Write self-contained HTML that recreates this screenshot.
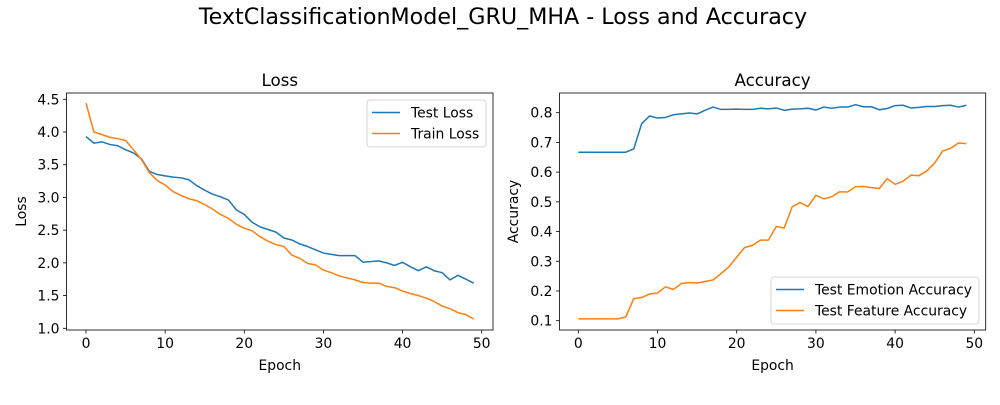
<!DOCTYPE html>
<html><head><meta charset="utf-8"><style>
body{margin:0;background:#fff;font-family:"Liberation Sans","DejaVu Sans",sans-serif}
svg text{font-family:"DejaVu Sans","Liberation Sans",sans-serif}
</style></head><body>
<svg id="c" width="1000" height="400" xmlns="http://www.w3.org/2000/svg">
<text x="503" y="24" font-size="22.2" text-anchor="middle">TextClassificationModel_GRU_MHA - Loss and Accuracy</text>
</svg>
<script>
const epochs = Array.from({length:50},(_,i)=>i);
const testLoss=[3.93,3.83,3.85,3.81,3.79,3.73,3.68,3.59,3.40,3.35,3.33,3.31,3.30,3.27,3.18,3.11,3.05,3.01,2.96,2.81,2.74,2.62,2.55,2.51,2.47,2.38,2.35,2.29,2.25,2.20,2.15,2.13,2.11,2.11,2.11,2.01,2.02,2.03,2.00,1.96,2.01,1.94,1.88,1.94,1.88,1.85,1.74,1.81,1.75,1.69];
const trainLoss=[4.44,4.0,3.96,3.92,3.90,3.87,3.73,3.58,3.38,3.26,3.19,3.09,3.03,2.98,2.95,2.89,2.82,2.74,2.68,2.59,2.53,2.49,2.40,2.33,2.28,2.25,2.12,2.07,1.99,1.97,1.89,1.85,1.80,1.77,1.74,1.70,1.69,1.69,1.64,1.62,1.57,1.53,1.50,1.46,1.41,1.34,1.30,1.24,1.21,1.14];
const emoAcc=[0.667,0.667,0.667,0.667,0.667,0.667,0.667,0.678,0.763,0.789,0.782,0.784,0.793,0.796,0.799,0.796,0.808,0.819,0.811,0.811,0.812,0.811,0.811,0.815,0.813,0.816,0.808,0.812,0.813,0.815,0.809,0.819,0.815,0.819,0.819,0.827,0.820,0.820,0.810,0.814,0.824,0.825,0.816,0.818,0.821,0.821,0.824,0.825,0.819,0.825];
const featAcc=[0.106,0.106,0.106,0.106,0.106,0.106,0.113,0.174,0.178,0.190,0.193,0.214,0.205,0.225,0.228,0.227,0.232,0.237,0.258,0.281,0.314,0.346,0.354,0.371,0.371,0.417,0.412,0.483,0.498,0.484,0.522,0.510,0.517,0.534,0.533,0.551,0.552,0.548,0.545,0.578,0.559,0.569,0.590,0.588,0.604,0.631,0.671,0.680,0.698,0.696];
const xTicks=[0,10,20,30,40,50];
const lossTicks=[1.0,1.5,2.0,2.5,3.0,3.5,4.0,4.5];
const accTicks=[0.1,0.2,0.3,0.4,0.5,0.6,0.7,0.8];

const svg=document.getElementById('c');
const NS='http://www.w3.org/2000/svg';
function mk(tag,attrs,parent){const e=document.createElementNS(NS,tag);for(const k in attrs)e.setAttribute(k,attrs[k]);(parent||svg).appendChild(e);return e;}

function panel(o){
  const g=mk('g',{});
  
  
  const sx=v=>o.x0px+(v-0)*(o.x50px-o.x0px)/50;
  const sy=v=>o.yAp+(v-o.yA)*(o.yBp-o.yAp)/(o.yB-o.yA);
  xTicks.forEach(t=>{
    const l=mk('line',{x1:sx(t),x2:sx(t),y1:o.b,y2:o.b+3.5,stroke:'#000','stroke-width':0.8},g);
    
    
    const tx=mk('text',{x:sx(t),y:o.b+18,'font-size':13.9,'text-anchor':'middle'},g);
    tx.textContent=t;
    
    
  });
  o.yTicks.forEach(t=>{
    const l=mk('line',{x1:o.l-3.5,x2:o.l,y1:sy(t),y2:sy(t),stroke:'#000','stroke-width':0.8},g);
    
    
    const tx=mk('text',{x:o.l-7,y:sy(t)+5,'font-size':13.9,'text-anchor':'end'},g);
    tx.textContent=t.toFixed(1);
    
    
  });
  o.series.forEach(s=>{
    const p=mk('polyline',{points:s.data.map((v,i)=>sx(epochs[i])+','+sy(v)).join(' '),fill:'none',stroke:s.color,'stroke-width':1.5,'stroke-linejoin':'round'},g);
    
    
  });
  const fr=mk('rect',{x:o.l,y:o.t,width:o.r-o.l,height:o.b-o.t,fill:'none',stroke:'#000','stroke-width':0.8},g);
  
  
  const ti=mk('text',{x:(o.l+o.r)/2,y:o.t-7,'font-size':16.7,'text-anchor':'middle'},g);
  ti.textContent=o.title;
  
  
  const xl=mk('text',{x:(o.l+o.r)/2,y:o.b+40,'font-size':13.9,'text-anchor':'middle'},g);
  xl.textContent='Epoch';
  
  
  const cy=(o.t+o.b)/2;
  const yl=mk('text',{x:o.ylx,y:cy,'font-size':13.9,'text-anchor':'middle',transform:'rotate(-90 '+o.ylx+' '+cy+')'},g);
  yl.textContent=o.ylabel;
  
  
  const L=o.legend;
  const lg=mk('g',{},g);
  
  
  mk('rect',{x:L.x,y:L.y,width:L.w,height:47,rx:3,fill:'#fff','fill-opacity':0.8,stroke:'#ccc','stroke-width':0.8},lg);
  o.series.forEach((s,i)=>{
    const yy=L.y+12.5+i*21;
    const e=mk('g',{},lg);
    
    
    mk('line',{x1:L.x+5,x2:L.x+33,y1:yy,y2:yy,stroke:s.color,'stroke-width':1.5},e);
    const t=mk('text',{x:L.x+44,y:yy+5,'font-size':13.9},e);
    t.textContent=s.label;
  });
}
panel({name:'loss-chart',l:66.5,r:493,t:93,b:330,x0px:86,x50px:481.7,yA:4.5,yAp:99.3,yB:1.0,yBp:328.3,yTicks:lossTicks,title:'Loss',ylabel:'Loss',ylx:26,
  series:[{data:testLoss,color:'#1f77b4',label:'Test Loss',name:'test-loss-line'},{data:trainLoss,color:'#ff7f0e',label:'Train Loss',name:'train-loss-line'}],
  legend:{x:367,y:100,w:119}});
panel({name:'accuracy-chart',l:559.5,r:985.7,t:93,b:330,x0px:578.3,x50px:974.3,yA:0.8,yAp:112.7,yB:0.1,yBp:320.7,yTicks:accTicks,title:'Accuracy',ylabel:'Accuracy',ylx:518,
  series:[{data:emoAcc,color:'#1f77b4',label:'Test Emotion Accuracy',name:'emotion-accuracy-line'},{data:featAcc,color:'#ff7f0e',label:'Test Feature Accuracy',name:'feature-accuracy-line'}],
  legend:{x:771,y:277,w:208}});
</script>
</body></html>
